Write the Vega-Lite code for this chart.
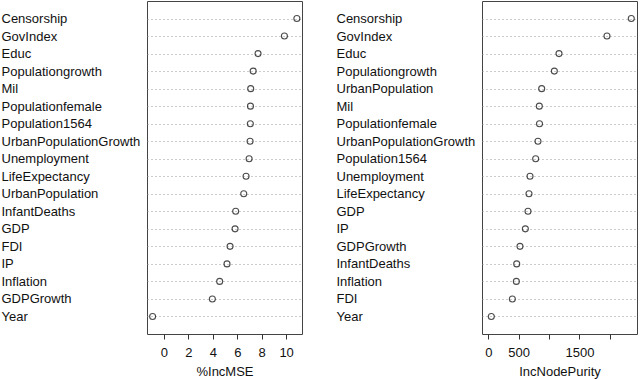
{
  "$schema": "https://vega.github.io/schema/vega-lite/v6.json",
  "padding": 0,
  "background": "white",
  "spacing": 32,
  "config": {
    "font": "Liberation Sans",
    "view": {"stroke": "#444", "strokeWidth": 1},
    "axis": {"labelFont": "Liberation Sans", "titleFont": "Liberation Sans", "labelColor": "#111", "titleColor": "#111", "labelFontSize": 13, "titleFontSize": 13, "titleFontWeight": "normal"}
  },
  "datasets": {
    "mse": [
      {"var": "Censorship", "v": 10.88},
      {"var": "GovIndex", "v": 9.86},
      {"var": "Educ", "v": 7.70},
      {"var": "Populationgrowth", "v": 7.30},
      {"var": "Mil", "v": 7.10},
      {"var": "Populationfemale", "v": 7.08},
      {"var": "Population1564", "v": 7.07},
      {"var": "UrbanPopulationGrowth", "v": 7.05},
      {"var": "Unemployment", "v": 6.97},
      {"var": "LifeExpectancy", "v": 6.72},
      {"var": "UrbanPopulation", "v": 6.53},
      {"var": "InfantDeaths", "v": 5.87},
      {"var": "GDP", "v": 5.82},
      {"var": "FDI", "v": 5.41},
      {"var": "IP", "v": 5.16},
      {"var": "Inflation", "v": 4.56},
      {"var": "GDPGrowth", "v": 3.96},
      {"var": "Year", "v": -0.93}
    ],
    "purity": [
      {"var": "Censorship", "v": 2352},
      {"var": "GovIndex", "v": 1952},
      {"var": "Educ", "v": 1163},
      {"var": "Populationgrowth", "v": 1086},
      {"var": "UrbanPopulation", "v": 878},
      {"var": "Mil", "v": 839},
      {"var": "Populationfemale", "v": 842},
      {"var": "UrbanPopulationGrowth", "v": 817},
      {"var": "Population1564", "v": 779},
      {"var": "Unemployment", "v": 686},
      {"var": "LifeExpectancy", "v": 669},
      {"var": "GDP", "v": 653},
      {"var": "IP", "v": 609},
      {"var": "GDPGrowth", "v": 521},
      {"var": "InfantDeaths", "v": 467},
      {"var": "Inflation", "v": 461},
      {"var": "FDI", "v": 395},
      {"var": "Year", "v": 49}
    ]
  },
  "hconcat": [
    {
      "width": 155,
      "height": 333,
      "data": {"name": "mse"},
      "mark": {"type": "point", "shape": "circle", "filled": false, "size": 36, "stroke": "black", "strokeWidth": 1.1},
      "encoding": {
        "y": {"field": "var", "type": "nominal", "sort": null, "scale": {"type": "point", "padding": 1},
          "axis": {"title": null, "ticks": false, "domain": false, "labelAlign": "left", "labelPadding": 146, "labelLimit": 0, "grid": true, "gridDash": [1, 3], "gridColor": "#999"}},
        "x": {"field": "v", "type": "quantitative", "scale": {"domain": [-1.39, 11.3], "nice": false, "zero": false},
          "axis": {"title": "%IncMSE", "values": [0, 2, 4, 6, 8, 10], "grid": false, "domain": false, "tickSize": 5, "tickColor": "#333", "labelPadding": 7, "titlePadding": 6}}
      }
    },
    {
      "width": 155,
      "height": 333,
      "data": {"name": "purity"},
      "mark": {"type": "point", "shape": "circle", "filled": false, "size": 36, "stroke": "black", "strokeWidth": 1.1},
      "encoding": {
        "y": {"field": "var", "type": "nominal", "sort": null, "scale": {"type": "point", "padding": 1},
          "axis": {"title": null, "ticks": false, "domain": false, "labelAlign": "left", "labelPadding": 146, "labelLimit": 0, "grid": true, "gridDash": [1, 3], "gridColor": "#999"}},
        "x": {"field": "v", "type": "quantitative", "scale": {"domain": [-104, 2446], "nice": false, "zero": false},
          "axis": {"title": "IncNodePurity", "values": [0, 500, 1000, 1500, 2000], "format": "d", "labelExpr": "datum.value == 1000 || datum.value == 2000 ? '' : datum.label", "grid": false, "domain": false, "tickSize": 5, "tickColor": "#333", "labelPadding": 7, "titlePadding": 6}}
      }
    }
  ]
}
